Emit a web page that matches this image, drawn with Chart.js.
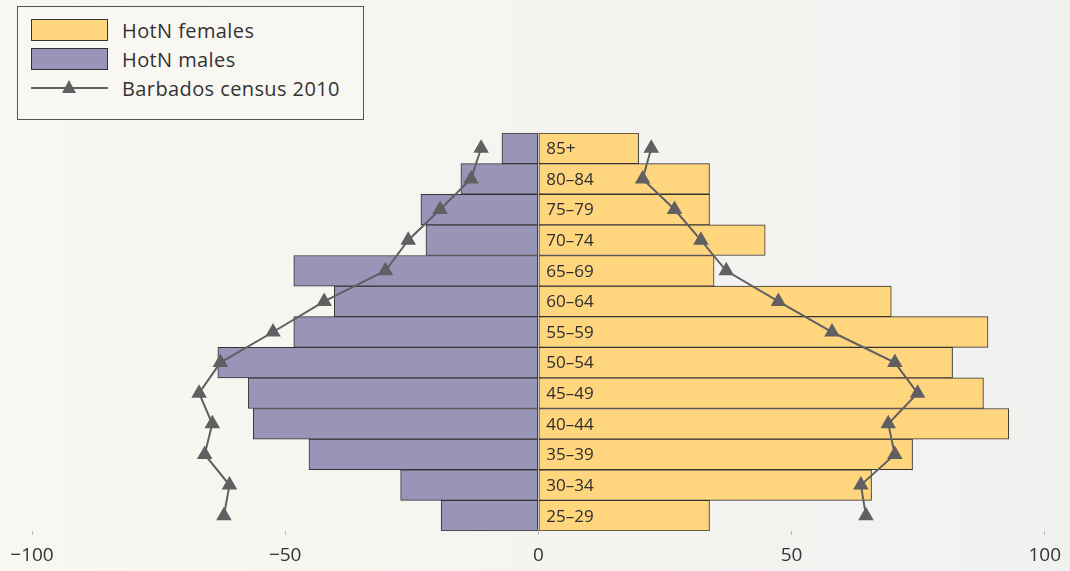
<!DOCTYPE html>
<html>
<head>
<meta charset="utf-8">
<script src="https://cdn.jsdelivr.net/npm/chart.js@4.4.1/dist/chart.umd.min.js"></script>
<style>
  html, body { margin:0; padding:0; }
  body {
    width:1070px; height:571px; overflow:hidden; position:relative;
    background: linear-gradient(to right, #f9f7f1, #f1f1f0);
    font-family: "Open Sans", sans-serif;
  }
  #wrap { position:absolute; left:0; top:0; width:1070px; height:571px; }
  #legend {
    position:absolute; left:17px; top:6px; width:345px; height:112px;
    border:1px solid #555; background:#f8f7f2; color:#333; font-size:20px; letter-spacing:0.4px;
  }
  .item { position:absolute; left:13px; height:24px; display:flex; align-items:center; }
  .swatch { width:75px; height:20px; border:1px solid #333; margin-right:14px; }
  .line { width:77px; height:22px; margin-right:14px; position:relative; }
  .line:before { content:""; position:absolute; left:0; right:0; top:10px; border-top:2px solid #606062; }
  .line:after { content:""; position:absolute; left:31px; top:3px; border-left:7px solid transparent;
    border-right:7px solid transparent; border-bottom:13px solid #606062; }
</style>
</head>
<body>
<div id="wrap"><canvas id="pyramid" width="1070" height="571"></canvas></div>
<div id="legend">
  <div class="item" style="top:11px"><div class="swatch" style="background:#ffd57e"></div>HotN females</div>
  <div class="item" style="top:40px"><div class="swatch" style="background:#9895b8"></div>HotN males</div>
  <div class="item" style="top:69px"><div class="line"></div>Barbados census 2010</div>
</div>
<script>
const ageGroups = ["25–29","30–34","35–39","40–44","45–49","50–54","55–59","60–64","65–69","70–74","75–79","80–84","85+"];
const hotnMales = [-19.2,-27.2,-45.3,-56.3,-57.3,-63.3,-48.3,-40.3,-48.3,-22.2,-23.2,-15.3,-7.2];
const hotnFemales = [33.8,65.8,73.9,92.9,87.9,81.8,88.8,69.7,34.7,44.8,33.8,33.8,19.8];
const censusMales = [-62.1,-61.0,-65.9,-64.4,-67.0,-62.8,-52.4,-42.3,-30.2,-25.7,-19.4,-13.3,-11.3];
const censusFemales = [64.7,63.7,70.4,69.1,74.9,70.4,58.0,47.4,37.1,32.1,26.9,20.6,22.3];
const xTicks = [-100,-50,0,50,100];

const lineColor = "#606062";

// age labels sit just right of the zero line
const ageLabels = {
  id: "ageLabels",
  afterDatasetsDraw(chart) {
    const ctx = chart.ctx, x = chart.scales.x, y = chart.scales.y;
    ctx.save();
    ctx.font = "17px 'Open Sans'";
    ctx.fillStyle = "#2e2e2e";
    ctx.textAlign = "left";
    ctx.textBaseline = "middle";
    ageGroups.forEach((g, i) => {
      ctx.fillText(g, x.getPixelForValue(0) + 8, y.getPixelForValue(i) + 1);
    });
    ctx.restore();
  }
};

function censusSet(data) {
  return {
    type: "line", indexAxis: "y", data,
    borderColor: lineColor, borderWidth: 2,
    pointStyle: "triangle", pointRadius: 7,
    pointBackgroundColor: lineColor, pointBorderColor: lineColor,
    order: 0
  };
}

new Chart(document.getElementById("pyramid"), {
  type: "bar",
  data: {
    labels: ageGroups,
    datasets: [
      { label: "HotN males", data: hotnMales, backgroundColor: "#9895b8",
        borderColor: "#333", borderWidth: 1, borderSkipped: false,
        grouped: false, barPercentage: 1, categoryPercentage: 1, order: 1 },
      { label: "HotN females", data: hotnFemales, backgroundColor: "#ffd57e",
        borderColor: "#333", borderWidth: 1, borderSkipped: false,
        grouped: false, barPercentage: 1, categoryPercentage: 1, order: 1 },
      censusSet(censusMales),
      censusSet(censusFemales)
    ]
  },
  options: {
    indexAxis: "y",
    responsive: false,
    animation: false,
    layout: { padding: { top: 133, left: 32, right: 25, bottom: 0 } },
    plugins: { legend: { display: false }, tooltip: { enabled: false } },
    scales: {
      x: {
        min: -100, max: 100,
        afterBuildTicks: s => { s.ticks = xTicks.map(v => ({ value: v })); },
        afterFit: s => { s.height = 40; },
        grid: { drawOnChartArea: false, drawTicks: true, tickLength: 4, color: "#bbb" },
        border: { display: false },
        ticks: {
          padding: 9, color: "#333", font: { family: "Open Sans", size: 19 },
          callback: v => String(v).replace("-", "\u2212")
        }
      },
      y: { display: false, reverse: true }
    }
  },
  plugins: [ageLabels]
});
</script>
</body>
</html>
